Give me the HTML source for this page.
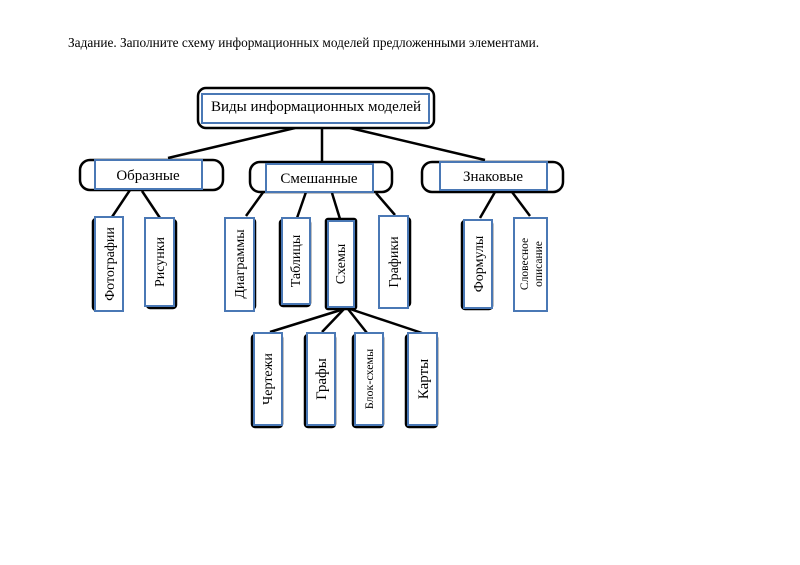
<!DOCTYPE html>
<html><head><meta charset="utf-8"><style>
body{margin:0;background:#fff;}
svg{display:block;font-family:"Liberation Serif","DejaVu Serif",serif;}
</style></head><body>
<svg width="800" height="565" viewBox="0 0 800 565" xmlns="http://www.w3.org/2000/svg">
<text x="68" y="47" font-size="13.3" fill="#000">Задание. Заполните схему информационных моделей предложенными элементами.</text>
<g stroke="#000" stroke-width="2.5" fill="none">
<line x1="295" y1="128" x2="168" y2="158"/>
<line x1="322" y1="128" x2="322" y2="161"/>
<line x1="350" y1="128" x2="485" y2="160"/>
<line x1="130" y1="190" x2="112" y2="217"/>
<line x1="142" y1="191" x2="160" y2="218"/>
<line x1="264" y1="191" x2="246" y2="216"/>
<line x1="306" y1="192" x2="297" y2="218"/>
<line x1="332" y1="193" x2="340" y2="219"/>
<line x1="376" y1="193" x2="395" y2="215"/>
<line x1="495" y1="192" x2="480" y2="218"/>
<line x1="512" y1="192" x2="530" y2="216"/>
<line x1="344" y1="309" x2="270" y2="332"/>
<line x1="344" y1="309" x2="322" y2="332"/>
<line x1="348" y1="309" x2="367" y2="333"/>
<line x1="350" y1="309" x2="422" y2="333"/>
</g>
<g stroke="#000" stroke-width="2.5" fill="#fff">
<rect x="198" y="88" width="236" height="40" rx="8"/>
<rect x="80" y="160" width="143" height="30" rx="10"/>
<rect x="250" y="162" width="142" height="30" rx="10"/>
<rect x="422" y="162" width="141" height="30" rx="10"/>
</g>
<g stroke="#4a78b5" stroke-width="2" fill="#fff">
<rect x="202" y="94" width="227" height="29"/>
<rect x="95" y="160" width="107" height="29"/>
<rect x="266" y="164" width="107" height="28"/>
<rect x="440" y="162" width="107" height="28"/>
</g>
<g font-size="15" text-anchor="middle" fill="#000">
<text x="316" y="111">Виды информационных моделей</text>
<text x="148" y="180">Образные</text>
<text x="319" y="183">Смешанные</text>
<text x="493" y="181">Знаковые</text>
</g>
<g stroke="#000" stroke-width="2.5" fill="#fff">
<rect x="93" y="219" width="28" height="91" rx="3"/>
<rect x="147" y="220" width="29" height="88" rx="3"/>
<rect x="227" y="219" width="28" height="90" rx="3"/>
<rect x="280" y="220" width="30" height="86" rx="3"/>
<rect x="326" y="219" width="30" height="90" rx="2"/>
<rect x="381" y="218" width="29" height="88" rx="3"/>
<rect x="462" y="221" width="30" height="88" rx="3"/>
<rect x="252" y="335" width="30" height="92" rx="3"/>
<rect x="305" y="335" width="30" height="92" rx="3"/>
<rect x="353" y="335" width="30" height="92" rx="3"/>
<rect x="406" y="335" width="31" height="92" rx="3"/>
</g>
<g stroke="#4a78b5" stroke-width="2" fill="#fff">
<rect x="95" y="217" width="28" height="94"/>
<rect x="145" y="218" width="29" height="88"/>
<rect x="225" y="218" width="29" height="93"/>
<rect x="282" y="218" width="28" height="86"/>
<rect x="328" y="221" width="26" height="86"/>
<rect x="379" y="216" width="29" height="92"/>
<rect x="464" y="220" width="28" height="88"/>
<rect x="514" y="218" width="33" height="93"/>
<rect x="254" y="333" width="28" height="92"/>
<rect x="307" y="333" width="28" height="92"/>
<rect x="355" y="333" width="28" height="92"/>
<rect x="408" y="333" width="29" height="92"/>
</g>
<g font-size="14" text-anchor="middle" fill="#000">
<text transform="translate(114,264) rotate(-90)">Фотографии</text>
<text transform="translate(164,262) rotate(-90)">Рисунки</text>
<text transform="translate(244,264) rotate(-90)">Диаграммы</text>
<text transform="translate(300,261) rotate(-90)">Таблицы</text>
<text transform="translate(345,264) rotate(-90)">Схемы</text>
<text transform="translate(398,262) rotate(-90)">Графики</text>
<text transform="translate(483,264) rotate(-90)">Формулы</text>
<text transform="translate(272,379) rotate(-90)">Чертежи</text>
<text transform="translate(326,379) rotate(-90)" font-size="15">Графы</text>
<text transform="translate(373,379) rotate(-90)" font-size="12">Блок-схемы</text>
<text transform="translate(428,379) rotate(-90)" font-size="15">Карты</text>
</g>
<g font-size="11.5" text-anchor="middle" fill="#000">
<text transform="translate(528,264) rotate(-90)">Словесное</text>
<text transform="translate(542,264) rotate(-90)">описание</text>
</g>
</svg>
</body></html>
